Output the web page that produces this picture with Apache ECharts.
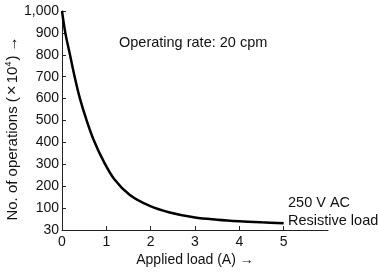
<!DOCTYPE html>
<html>
<head>
<meta charset="UTF-8">
<style>
  html, body { margin: 0; padding: 0; background: #fff; }
  #chart { width: 379px; height: 275px; }
</style>
<script src="https://cdn.jsdelivr.net/npm/echarts@6/dist/echarts.min.js"></script>
</head>
<body>
<div id="chart"></div>
<script>
// applied load (A) vs. number of operations (x10^4)
var loadA = [0, 0.075, 0.18, 0.285, 0.405, 0.55, 0.71, 0.92, 1.19, 1.53, 1.98, 2.43, 3, 3.5, 4, 4.5, 5];
var operations = [1000, 900, 800, 700, 600, 504, 413, 321, 229, 160, 110, 80, 57, 47, 40, 35, 31];
var xTicks = [0, 1, 2, 3, 4, 5];

var font = 'Liberation Sans, Arial, sans-serif';
var chart = echarts.init(document.getElementById('chart'));

chart.setOption({
  animation: false,
  grid: { left: 62, top: 11, right: 51, bottom: 45, outerBoundsMode: 'none' },
  xAxis: {
    type: 'value',
    min: 0,
    max: 6,
    name: 'Applied load (A) →',
    nameLocation: 'middle',
    nameGap: 23,
    nameMoveOverlap: false,
    nameTextStyle: { color: '#111', fontSize: 14, fontFamily: font },
    axisLine: { lineStyle: { color: '#222', width: 1 } },
    axisTick: { inside: true, length: 4, lineStyle: { color: '#222' }, customValues: xTicks },
    axisLabel: { color: '#111', fontSize: 14, fontFamily: font, margin: 5, customValues: xTicks },
    splitLine: { show: false }
  },
  yAxis: {
    type: 'value',
    min: 0,
    max: 1000,
    interval: 100,
    name: '{a|No. of operations (}{x|×}{a|10}{s|4}{a|) →}',
    nameLocation: 'middle',
    nameGap: 41,
    nameMoveOverlap: false,
    nameTextStyle: {
      color: '#111', fontSize: 15, fontFamily: font, padding: [0, 16, 0, 0],
      rich: {
        a: { fontSize: 15, fontFamily: font, color: '#111' },
        x: { fontSize: 17, fontFamily: font, color: '#111', padding: [0, 2, 0, 2] },
        s: { fontSize: 9, fontFamily: font, color: '#111', verticalAlign: 'top', padding: [0, 1, 7, 0] }
      }
    },
    axisLine: { show: true, lineStyle: { color: '#222', width: 1 } },
    axisTick: { show: true, inside: true, length: 4, lineStyle: { color: '#222' } },
    axisLabel: {
      color: '#111', fontSize: 14, fontFamily: font, margin: 3,
      formatter: function (v) {
        if (v === 0) return '30';
        if (v === 1000) return '1,000';
        return v;
      }
    },
    splitLine: { show: false }
  },
  graphic: [
    { type: 'text', x: 119, y: 43,
      style: { text: 'Operating rate: 20 cpm', font: '14.5px ' + font, fill: '#111', verticalAlign: 'middle' } },
    { type: 'text', x: 288, y: 203,
      style: { text: '250 V AC', font: '14.5px ' + font, fill: '#111', verticalAlign: 'middle' } },
    { type: 'text', x: 288, y: 221,
      style: { text: 'Resistive load', font: '14.5px ' + font, fill: '#111', verticalAlign: 'middle' } }
  ],
  series: [{
    type: 'line',
    smooth: 0.35,
    showSymbol: false,
    data: loadA.map(function (x, i) { return [x, operations[i]]; }),
    lineStyle: { color: '#000', width: 2.5 }
  }]
});
</script>
</body>
</html>
